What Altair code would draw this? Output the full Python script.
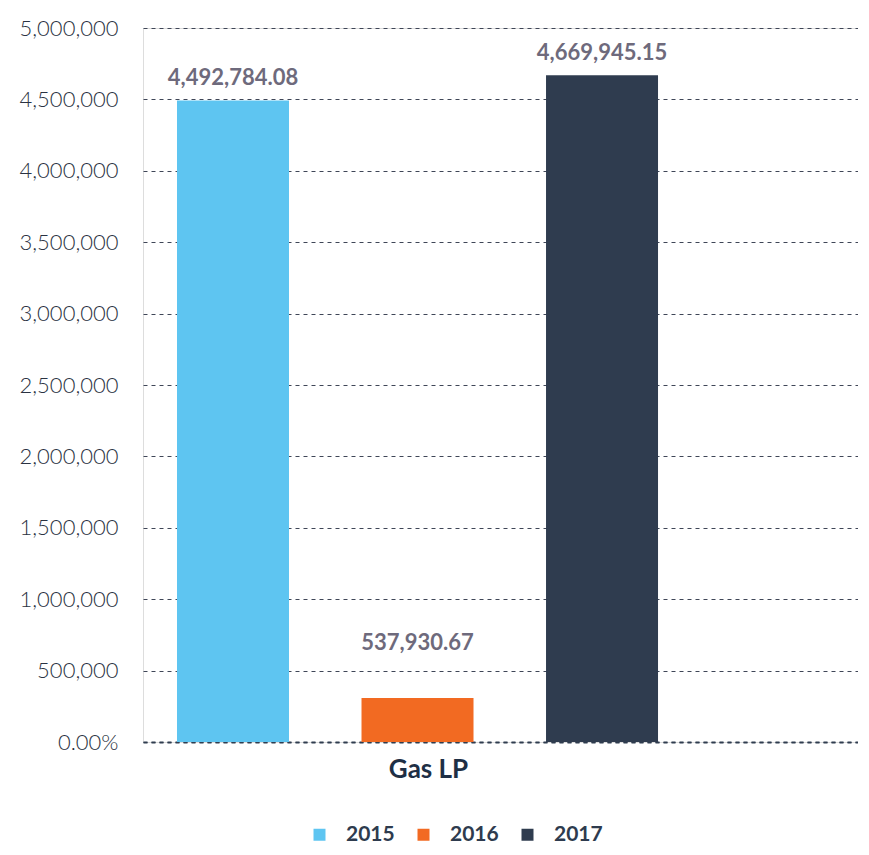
import altair as alt
import pandas as pd

# ---- data ----
category = ["Gas LP", "Gas LP", "Gas LP"]
years = ["2015", "2016", "2017"]
bar_values = [4492784.08, 308000, 4669945.15]          # bar heights as drawn
label_values = [4492784.08, 537930.67, 4669945.15]     # numbers printed above bars
label_texts = ["4,492,784.08", "537,930.67", "4,669,945.15"]
y_ticks = [0, 500000, 1000000, 1500000, 2000000, 2500000,
           3000000, 3500000, 4000000, 4500000, 5000000]
colors = ["#5EC5F1", "#F26A22", "#2F3C4F"]

df = pd.DataFrame({
    "cat": category,
    "year": years,
    "value": bar_values,
    "lval": label_values,
    "label": label_texts,
})

FONT = "Lato"

x_axis = alt.Axis(
    labelAngle=0, ticks=False, labelFontSize=26, labelFontWeight="bold",
    labelColor="#1E2F45", labelFont=FONT, labelPadding=14, labelOffset=11,
    domain=True, domainColor="#2F3C4F", domainWidth=2, domainDash=[4, 4],
    grid=False,
)
y_axis = alt.Axis(
    values=y_ticks,
    labelExpr="datum.value == 0 ? '0.00%' : format(datum.value, ',')",
    labelFontSize=22, labelFont=FONT, labelFontWeight=300,
    labelColor="#2A3242", labelPadding=25, ticks=False, domain=False,
    grid=True, gridColor="#3F4657", gridDash=[4, 4], gridWidth=1,
)

x_scale = alt.Scale(paddingInner=0, paddingOuter=0.2432, align=0.1453)
xoff = alt.XOffset("year:N", scale=alt.Scale(paddingInner=0.393, paddingOuter=0))
y_scale = alt.Scale(domain=[0, 5000000], nice=False)

bars = alt.Chart(df).mark_bar().encode(
    x=alt.X("cat:N", title=None, scale=x_scale, axis=x_axis),
    xOffset=xoff,
    y=alt.Y("value:Q", title=None, scale=y_scale, axis=y_axis),
    color=alt.Color(
        "year:N",
        scale=alt.Scale(domain=years, range=colors),
        legend=alt.Legend(
            title=None, orient="none", legendX=166, legendY=796,
            direction="horizontal", symbolType="square", symbolSize=144,
            symbolStrokeWidth=0, labelFontSize=21, labelFontWeight="bold",
            labelFont=FONT, labelColor="#2E3B4E", labelOffset=16,
            columnPadding=18, padding=0,
        ),
    ),
)

labels = alt.Chart(df).mark_text(
    fontSize=22, fontWeight="bold", font=FONT, color="#6E6A7C",
    baseline="middle", dy=-22,
).encode(
    x=alt.X("cat:N", title=None, scale=x_scale, axis=x_axis),
    xOffset=xoff,
    y=alt.Y("lval:Q", title=None, scale=y_scale, axis=y_axis),
    text="label:N",
)

chart = (bars + labels).properties(
    width=715,
    height=714,
    autosize=alt.AutoSizeParams(type="none"),
    padding={"left": 135, "top": 20, "right": 0, "bottom": 104},
).configure_view(strokeWidth=0).configure(background="white")

chart.save("out.html", embed_options={"renderer": "svg", "actions": False})
